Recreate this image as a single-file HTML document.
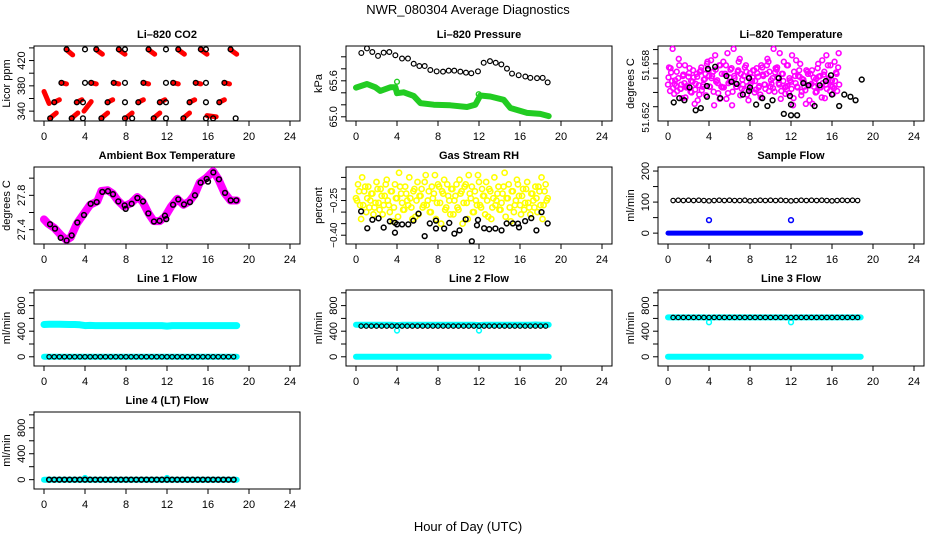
<!DOCTYPE html>
<html><head><meta charset="utf-8"><title>NWR_080304 Average Diagnostics</title>
<style>
html,body{margin:0;padding:0;background:#fff;}
svg{display:block;font-family:"Liberation Sans",Arial,sans-serif;}
</style></head>
<body>
<svg id="chart" width="936" height="540" viewBox="0 0 936 540" xmlns="http://www.w3.org/2000/svg">
<rect x="0" y="0" width="936" height="540" fill="#fff"/>
<text x="468" y="14" text-anchor="middle" font-size="13">NWR_080304  Average Diagnostics</text>
<text x="468" y="531" text-anchor="middle" font-size="13">Hour of Day (UTC)</text>
</svg>
<script>
// ---- data ----
const xTicks = [0,4,8,12,16,20,24];
// CO2
const co2BlackT = [2.2,4.0,5.1,7.3,7.9,10.2,11.9,13.1,15.3,15.8,18.2, 1.7,4.0,4.6,6.8,7.9,9.7,11.9,12.6,14.8,15.8,17.6, 1.0,3.2,3.8,6.2,7.9,9.2,11.3,11.9,14.2,15.8,17.1, 0.6,2.7,3.8,5.6,7.9,8.6,10.7,11.9,13.6,15.8,16.5,18.7];
const co2BlackV = [437.7,437.7,437.7,437.7,437.7,437.7,437.7,437.7,437.7,437.7,437.7, 384.7,384.7,384.7,384.7,384.7,384.7,384.7,384.7,384.7,384.7,384.7, 354,354,354,354,354,354,354,354,354,354,354, 328.6,328.6,328.6,328.6,328.6,328.6,328.6,328.6,328.6,328.6,328.6,328.6];
const co2RedT0 = [0.0,2.2,5.1,7.3,10.2,13.1,15.3,18.2, 1.7,4.6,6.8,9.7,12.6,14.8,17.6, 1.0,3.2,3.9,6.2,9.2,11.3,14.2,17.1, 0.6,2.7,5.6,8.0,10.7,13.6,15.9];
const co2RedV0 = [371,437,437,437,437,437,437,437, 385,385,385,385,385,385,385, 354,354,340,354,354,354,354,354, 329,329,329,329,329,329,333];
const co2RedT1 = [0.5,2.8,5.7,7.9,10.8,13.7,15.9,18.8, 2.2,5.1,7.3,10.2,13.1,15.3,18.1, 1.5,3.7,4.6,6.7,9.7,11.8,14.7,17.6, 1.2,3.3,6.2,8.6,11.3,14.2,16.8];
const co2RedV1 = [352,429,430,430,430,430,430,430, 383,383,383,383,383,383,383, 358,358,355,358,358,358,358,358, 337,337,337,337,337,337,331];
// Pressure
const presBlackT = [0.52,1.07,1.59,2.15,2.7,3.25,3.84,4.49,5.07,5.63,6.18,6.7,7.25,7.87,8.49,9.04,9.59,10.18,10.73,11.25,11.9,12.46,13.07,13.63,14.18,14.73,15.22,15.87,16.52,17.01,17.66,18.21,18.7];
const presBlackV = [66.064,66.14,66.08,66.015,66.069,66.08,66.026,65.971,65.971,65.884,65.846,65.846,65.78,65.758,65.753,65.769,65.769,65.753,65.736,65.726,65.758,65.9,65.927,65.9,65.873,65.802,65.72,65.693,65.671,65.649,65.644,65.649,65.573];
const presGreenT = [0,1.07,1.89,2.37,3.35,3.84,4.0,4.65,5.63,6.28,7.58,9.2,10.83,11.64,12.13,13.1,14.41,15.06,16.68,17.98,18.8];
const presGreenV = [65.486,65.546,65.491,65.431,65.491,65.491,65.393,65.409,65.349,65.229,65.202,65.191,65.164,65.202,65.355,65.338,65.284,65.147,65.065,65.049,65.011];
const presGreenOutT = [4.0,11.97];
const presGreenOutV = [65.584,65.376];
// Li-820 temperature
const tempStep = 0.2;
const tempMagV = [51.6551,51.6542,51.6556,51.6538,51.6549,51.6560,51.6545,51.6532,51.6553,51.6547,51.6562,
51.6541,51.6555,51.6524,51.6566,51.6550,51.6571,51.6548,51.6559,51.6580,51.6563,
51.6585,51.6569,51.6592,51.6557,51.6578,51.6548,51.6583,51.6566,51.6595,51.6561,
51.6574,51.6601,51.6552,51.6569,51.6587,51.6545,51.6563,51.6578,51.6549,51.6567,
51.6556,51.6571,51.6544,51.6562,51.6537,51.6575,51.6551,51.6566,51.6583,51.6548,
51.6560,51.6541,51.6572,51.6553,51.6531,51.6566,51.6547,51.6578,51.6539,51.6555,
51.6522,51.6563,51.6548,51.6571,51.6536,51.6558,51.6543,51.6569,51.6529,51.6552,
51.6561,51.6540,51.6574,51.6547,51.6533,51.6565,51.6551,51.6578,51.6542,51.6557,
51.6546,51.6568,51.6575];
const tempBlackT = [0.56,1.1,1.6,2.1,2.7,3.2,3.8,3.8,3.9,4.6,5.1,5.7,6.2,6.7,7.3,7.9,7.9,8.0,8.6,9.2,9.7,10.2,10.8,11.3,11.9,12.0,12.0,12.6,13.2,13.7,14.3,14.8,15.4,15.9,16.0,16.7,17.2,17.8,18.3,18.9];
const tempBlackV = [51.6526,51.6532,51.6529,51.6547,51.6515,51.6518,51.6549,51.6534,51.6573,51.6576,51.6532,51.6563,51.6555,51.6552,51.6537,51.6560,51.6542,51.6547,51.6523,51.6532,51.6521,51.6529,51.6560,51.6510,51.6535,51.6523,51.6508,51.6508,51.6553,51.6550,51.6521,51.6550,51.6556,51.6564,51.6537,51.6521,51.6537,51.6534,51.6529,51.6558];
// Ambient box temperature
const ambMagT = [0,0.4,1,1.7,2.2,2.6,3.2,3.8,4.5,5.2,5.6,6.2,6.7,7.2,7.8,8.5,9.1,9.6,10.2,10.7,11.3,11.8,12.4,13.0,13.6,14.2,14.7,15.2,15.8,16.5,17.0,17.6,18.2,18.8];
const ambMagV = [27.52,27.47,27.42,27.33,27.28,27.31,27.47,27.57,27.69,27.73,27.85,27.86,27.82,27.74,27.67,27.71,27.78,27.73,27.59,27.50,27.50,27.55,27.67,27.76,27.69,27.73,27.81,27.95,28.00,28.08,27.99,27.83,27.74,27.74];
const ambBlackT = [0.59,1.07,1.63,2.21,2.7,3.25,3.9,4.55,5.14,5.69,6.24,6.73,7.25,7.87,7.97,8.55,9.11,9.66,10.18,10.73,11.28,11.8,11.93,12.59,13.1,13.66,14.24,14.73,15.28,15.87,16.0,16.52,17.07,17.66,18.21,18.76];
const ambBlackV = [27.463,27.412,27.305,27.273,27.333,27.483,27.571,27.702,27.721,27.84,27.848,27.813,27.729,27.682,27.642,27.702,27.769,27.729,27.59,27.495,27.503,27.563,27.523,27.69,27.753,27.694,27.721,27.8,27.948,27.991,27.96,28.067,27.987,27.829,27.741,27.741];
// Gas stream RH
const rhStep = 0.2;
const rhYellowV = [-0.24,-0.18,-0.27,-0.15,-0.21,-0.30,-0.19,-0.25,-0.22,-0.28,-0.17,
-0.26,-0.20,-0.31,-0.23,-0.16,-0.27,-0.21,-0.34,-0.18,-0.24,
-0.13,-0.22,-0.29,-0.19,-0.25,-0.15,-0.28,-0.21,-0.32,-0.17,
-0.23,-0.20,-0.27,-0.14,-0.25,-0.30,-0.19,-0.22,-0.33,-0.18,
-0.26,-0.21,-0.16,-0.28,-0.23,-0.31,-0.20,-0.25,-0.18,-0.29,
-0.22,-0.35,-0.19,-0.26,-0.14,-0.24,-0.30,-0.21,-0.27,-0.17,
-0.28,-0.23,-0.31,-0.25,-0.20,-0.33,-0.24,-0.27,-0.22,-0.29,
-0.26,-0.19,-0.32,-0.24,-0.28,-0.21,-0.30,-0.25,-0.18,-0.27,
-0.23,-0.29,-0.20,-0.26,-0.31,-0.22,-0.28,-0.24,-0.19,-0.27,-0.33,-0.21,-0.25];
const rhBlackT = [0.5,1.1,1.6,2.2,2.7,3.3,3.8,3.8,4.0,4.5,5.1,5.6,6.1,6.7,7.2,7.8,7.8,8.6,9.1,9.6,10.1,10.7,11.3,11.8,11.9,12.5,13.0,13.6,14.2,14.7,15.3,15.8,15.9,16.5,17.1,17.6,18.1,18.7];
const rhBlackV = [-0.297,-0.37,-0.333,-0.327,-0.367,-0.34,-0.346,-0.389,-0.353,-0.353,-0.353,-0.337,-0.307,-0.404,-0.349,-0.337,-0.371,-0.371,-0.347,-0.393,-0.379,-0.331,-0.426,-0.357,-0.334,-0.37,-0.374,-0.371,-0.379,-0.349,-0.349,-0.35,-0.366,-0.339,-0.326,-0.379,-0.3,-0.349];
// Flows (times)
const flowT = [0,0.5,1,1.5,2,2.5,3,3.5,4,4.5,5,5.5,6,6.5,7,7.5,8,8.5,9,9.5,10,10.5,11,11.5,12,12.5,13,13.5,14,14.5,15,15.5,16,16.5,17,17.5,18,18.5,18.8];
const flowBlackT = [0.5,1,1.5,2,2.5,3,3.5,4,4.5,5,5.5,6,6.5,7,7.5,8,8.5,9,9.5,10,10.5,11,11.5,12,12.5,13,13.5,14,14.5,15,15.5,16,16.5,17,17.5,18,18.5];
const outT = [4,12];
const sampleBlackV = [105,106,105,106,105,106,105,104,105,106,105,106,105,105,106,104,105,106,105,106,105,106,105,104,105,106,105,106,105,106,105,104,105,106,105,106,105];
const sampleBlueV = [0,0,0,0,0,0,0,0,0,0,0,0,0,0,0,0,0,0,0,0,0,0,0,0,0,0,0,0,0,0,0,0,0,0,0,0,0,0,0];
const sampleOutV = [42,42];
const line1CyanV = [505,510,508,510,506,505,504,500,488,490,488,487,488,487,488,488,487,488,487,488,487,488,487,488,480,488,487,488,487,488,487,488,487,488,487,488,487,488,488];
const line1CyanZeroV = [0,0,0,0,0,0,0,0,0,0,0,0,0,0,0,0,0,0,0,0,0,0,0,0,0,0,0,0,0,0,0,0,0,0,0,0,0,0,0];
const line1BlackV = [0,0,0,0,0,0,0,0,0,0,0,0,0,0,0,0,0,0,0,0,0,0,0,0,0,0,0,0,0,0,0,0,0,0,0,0,0];
const line2CyanV = [500,500,500,500,500,500,500,500,495,500,500,500,500,500,500,500,500,500,500,500,500,500,500,500,495,500,500,500,500,500,500,500,500,500,500,505,500,500,500];
const line2BlackV = [480,480,480,480,480,480,480,480,480,480,480,480,480,480,480,480,480,480,480,480,480,480,480,480,480,480,480,480,480,480,480,480,480,480,480,480,480];
const line2OutV = [410,410];
const line3CyanV = [615,615,615,615,615,615,615,615,612,615,615,615,615,615,615,615,615,615,615,615,615,615,615,615,612,615,615,615,615,615,615,615,615,615,615,615,615,615,615];
const line3BlackV = [615,615,615,615,615,615,615,615,615,615,615,615,615,615,615,615,615,615,615,615,615,615,615,615,615,615,615,615,615,615,615,615,615,615,615,615,615];
const line3OutV = [540,540];
const line4CyanV = [0,0,0,0,0,0,0,0,0,0,0,0,0,0,0,0,0,0,0,0,0,0,0,0,0,0,0,0,0,0,0,0,0,0,0,0,0,0,0];
const line4BlackV = [0,0,0,0,0,0,0,0,0,0,0,0,0,0,0,0,0,0,0,0,0,0,0,0,0,0,0,0,0,0,0,0,0,0,0,0,0];
const line4OutV = [25,25];

// ---- drawing ----
const svg = document.getElementById('chart');
const NS = 'http://www.w3.org/2000/svg';
const TOPS = [46,167,290,412], BOTS = [121,244,366,489];
function mk(tag, attrs, parent){
  const e = document.createElementNS(NS, tag);
  for (const k in attrs) e.setAttribute(k, attrs[k]);
  (parent||svg).appendChild(e);
  return e;
}
function panel(cfg){
  const g = mk('g', {});
  
  
  const L = cfg.col*312+34, R = cfg.col*312+300, T = TOPS[cfg.row], B = BOTS[cfg.row];
  const xs = t => cfg.col*312+44 + t*246/24;
  const ys = v => B - (v-cfg.ymin)/(cfg.ymax-cfg.ymin)*(B-T);
  const box = mk('rect', {x:L, y:T, width:R-L, height:B-T, fill:'none', stroke:'#000', 'stroke-width':1}, g);
  
  
  const tt = mk('text', {x:(L+R)/2, y:T-8, 'text-anchor':'middle', 'font-size':11, 'font-weight':'bold'}, g);
  tt.textContent = cfg.title;
  
  
  xTicks.forEach(t => {
    mk('line', {x1:xs(t), x2:xs(t), y1:B, y2:B+5, stroke:'#000'}, g);
    const lb = mk('text', {x:xs(t), y:B+19, 'text-anchor':'middle', 'font-size':11}, g);
    lb.textContent = t;
    
    
  });
  cfg.yTicks.forEach(v => mk('line', {x1:L-5, x2:L, y1:ys(v), y2:ys(v), stroke:'#000'}, g));
  const fs = cfg.yFont || 11;
  cfg.yLabelVals.forEach((v,i) => {
    const x = L-9, y = ys(v);
    const lb = mk('text', {x:x, y:y, 'text-anchor':'middle', 'font-size':fs, transform:`rotate(-90 ${x} ${y})`}, g);
    lb.textContent = cfg.yLabels[i];
    
    
  });
  const yt = mk('text', {x:L-24, y:(T+B)/2, 'text-anchor':'middle', 'font-size':11, transform:`rotate(-90 ${L-24} ${(T+B)/2})`}, g);
  yt.textContent = cfg.ylab;
  
  
  const clip = 'c'+cfg.col+cfg.row;
  const cp = mk('clipPath', {id:clip}, g);
  mk('rect', {x:L, y:T-6, width:R-L, height:B-T+12}, cp);
  const pg = mk('g', {'clip-path':`url(#${clip})`}, g);
  return {xs, ys, g:pg};
}
function pts(p, T, V, color, r, sw, name){
  T.forEach((t,i) => {
    const c = mk('circle', {cx:p.xs(t), cy:p.ys(V[i]), r:r, fill:'none', stroke:color, 'stroke-width':sw}, p.g);
    
    
  });
}
function band(p, T, V, color, w, name){
  const d = T.map((t,i) => (i?'L':'M') + p.xs(t).toFixed(1) + ' ' + p.ys(V[i]).toFixed(1)).join(' ');
  const e = mk('path', {d:d, fill:'none', stroke:color, 'stroke-width':w, 'stroke-linecap':'round', 'stroke-linejoin':'round'}, p.g);
  
  
}
const stepT = (n, s) => Array.from({length:n}, (_, i) => i*s);

// Li-820 CO2
let p = panel({name:'co2-panel', col:0, row:0, ymin:324.4, ymax:443, title:'Li\u2013820 CO2', ylab:'Licor ppm', yTicks:[340,360,380,400,420,440], yLabelVals:[340,380,420], yLabels:['340','380','420']});
co2RedT0.forEach((t,i) => band(p, [t, co2RedT1[i]], [co2RedV0[i], co2RedV1[i]], '#ff0000', 5, 'co2-red-streak'));
pts(p, co2BlackT, co2BlackV, '#000', 2.4, 1.4, 'co2-black-point');

// Pressure
p = panel({name:'pressure-panel', col:1, row:0, ymin:64.93, ymax:66.18, title:'Li\u2013820 Pressure', ylab:'kPa', yTicks:[65.0,65.2,65.4,65.6,65.8,66.0], yLabelVals:[65.0,65.6], yLabels:['65.0','65.6']});
band(p, presGreenT, presGreenV, '#22cc22', 6, 'pressure-green-band');
pts(p, presGreenOutT, presGreenOutV, '#22cc22', 2.4, 1.4, 'pressure-green-outlier');
pts(p, presBlackT, presBlackV, '#000', 2.4, 1.2, 'pressure-black-point');

// Li-820 Temperature
p = panel({name:'licor-temp-panel', col:2, row:0, ymin:51.650, ymax:51.6605, yFont:10, title:'Li\u2013820 Temperature', ylab:'degrees C', yTicks:[51.652,51.654,51.656,51.658,51.660], yLabelVals:[51.6505,51.6578], yLabels:['51.652','51.658']});
pts(p, stepT(tempMagV.length, tempStep), tempMagV, '#ff00ff', 2.4, 1.6, 'temp-magenta-point');
pts(p, stepT(tempMagV.length, tempStep).map(t=>t+0.1), tempMagV.slice().reverse(), '#ff00ff', 2.4, 1.6, 'temp-magenta-point');
pts(p, stepT(tempMagV.length, tempStep).map(t=>t+0.05), tempMagV.slice(30).concat(tempMagV.slice(0,30)), '#ff00ff', 2.4, 1.6, 'temp-magenta-point');
pts(p, tempBlackT, tempBlackV, '#000', 2.4, 1.5, 'temp-black-point');

// Ambient
p = panel({name:'ambient-temp-panel', col:0, row:1, ymin:27.233, ymax:28.13, title:'Ambient Box Temperature', ylab:'degrees C', yTicks:[27.4,27.6,27.8,28.0], yLabelVals:[27.4,27.8], yLabels:['27.4','27.8']});
band(p, ambMagT, ambMagV, '#ff00ff', 8, 'ambient-magenta-band');
pts(p, ambBlackT, ambBlackV, '#000', 2.4, 1.5, 'ambient-black-point');

// RH
p = panel({name:'rh-panel', col:1, row:1, ymin:-0.438, ymax:-0.105, yFont:10, title:'Gas Stream RH', ylab:'percent', yTicks:[-0.40,-0.35,-0.30,-0.25,-0.20,-0.15], yLabelVals:[-0.40,-0.25], yLabels:['\u22120.40','\u22120.25']});
pts(p, stepT(rhYellowV.length, rhStep), rhYellowV, '#ffff00', 2.6, 1.6, 'rh-yellow-point');
pts(p, stepT(rhYellowV.length, rhStep).map(t=>t+0.1), rhYellowV.slice().reverse(), '#ffff00', 2.6, 1.6, 'rh-yellow-point');
pts(p, rhBlackT, rhBlackV, '#000', 2.4, 1.5, 'rh-black-point');

// Sample flow
p = panel({name:'sample-flow-panel', col:2, row:1, ymin:-35, ymax:213, title:'Sample Flow', ylab:'ml/min', yTicks:[0,50,100,150,200], yLabelVals:[0,100,200], yLabels:['0','100','200']});
band(p, flowT, sampleBlueV, '#0000ff', 5, 'sample-blue-band');
pts(p, outT, sampleOutV, '#0000ff', 2.4, 1.5, 'sample-blue-outlier');
pts(p, flowBlackT, sampleBlackV, '#000', 2.2, 1.2, 'sample-black-point');

const lineCfg = {ymin:-144, ymax:1044, ylab:'ml/min', yTicks:[0,200,400,600,800,1000], yLabelVals:[0,400,800], yLabels:['0','400','800']};
// Line 1
p = panel(Object.assign({name:'line1-flow-panel', col:0, row:2, title:'Line 1 Flow'}, lineCfg));
band(p, flowT, line1CyanV, '#00ffff', 7, 'line1-cyan-band');
band(p, flowT, line1CyanZeroV, '#00ffff', 6, 'line1-cyan-zero-band');
pts(p, flowBlackT, line1BlackV, '#000', 2.2, 1.2, 'line1-black-point');
// Line 2
p = panel(Object.assign({name:'line2-flow-panel', col:1, row:2, title:'Line 2 Flow'}, lineCfg));
band(p, flowT, line2CyanV, '#00ffff', 6, 'line2-cyan-band');
band(p, flowT, line1CyanZeroV, '#00ffff', 6, 'line2-cyan-zero-band');
pts(p, outT, line2OutV, '#00ffff', 2.4, 1.5, 'line2-cyan-outlier');
pts(p, flowBlackT, line2BlackV, '#000', 2.2, 1.2, 'line2-black-point');
// Line 3
p = panel(Object.assign({name:'line3-flow-panel', col:2, row:2, title:'Line 3 Flow'}, lineCfg));
band(p, flowT, line3CyanV, '#00ffff', 6, 'line3-cyan-band');
band(p, flowT, line1CyanZeroV, '#00ffff', 6, 'line3-cyan-zero-band');
pts(p, outT, line3OutV, '#00ffff', 2.4, 1.5, 'line3-cyan-outlier');
pts(p, flowBlackT, line3BlackV, '#000', 2.2, 1.2, 'line3-black-point');
// Line 4
p = panel(Object.assign({name:'line4-flow-panel', col:0, row:3, title:'Line 4 (LT) Flow'}, lineCfg));
band(p, flowT, line4CyanV, '#00ffff', 6, 'line4-cyan-band');
pts(p, outT, line4OutV, '#00ffff', 2.4, 1.5, 'line4-cyan-outlier');
pts(p, flowBlackT, line4BlackV, '#000', 2.4, 1.6, 'line4-black-point');
</script>
</body></html>
